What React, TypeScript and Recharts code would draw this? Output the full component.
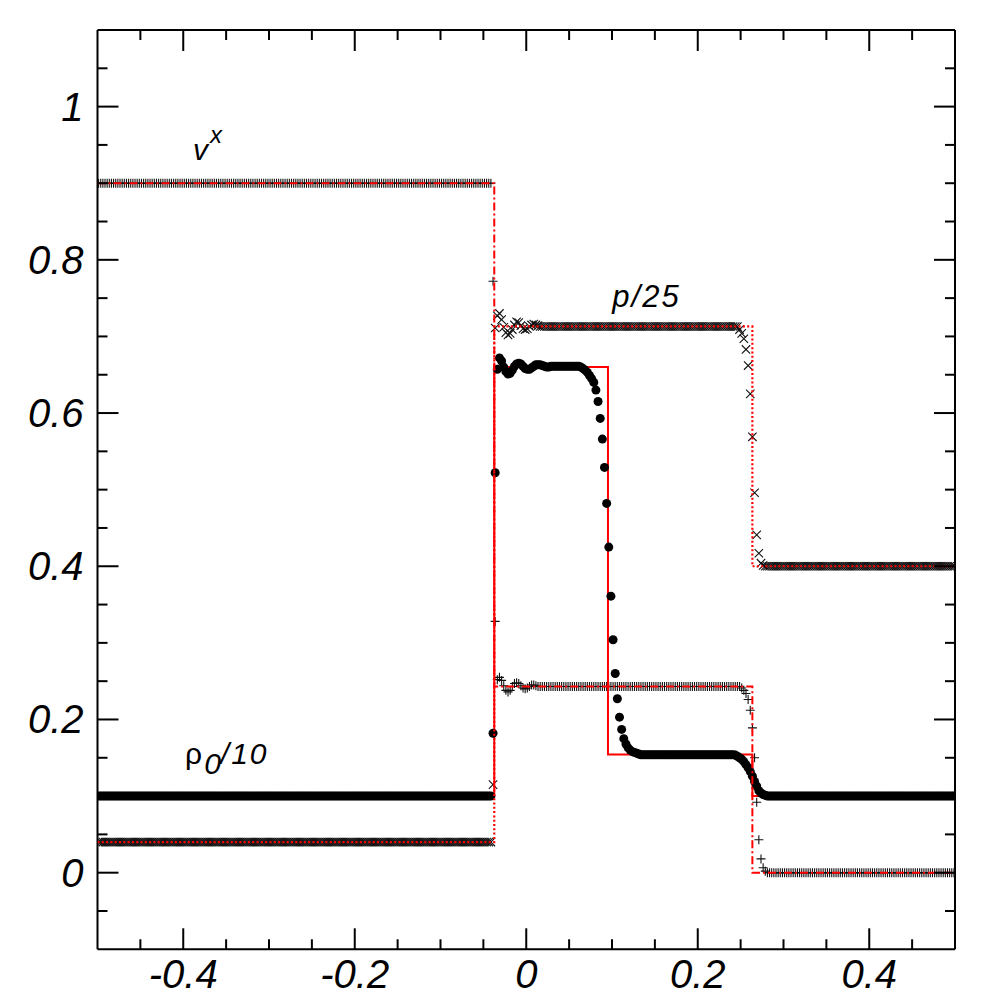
import React from 'react';
import { ScatterChart, Scatter, XAxis, YAxis } from 'recharts';

// ---- axes ----
const X_RANGE: [number, number] = [-0.5, 0.5];
const Y_RANGE: [number, number] = [-0.1, 1.1];
const xTicks = [-0.45, -0.4, -0.35, -0.3, -0.25, -0.2, -0.15, -0.1, -0.05, 0, 0.05, 0.1, 0.15, 0.2, 0.25, 0.3, 0.35, 0.4, 0.45];
const xMajor = [-0.4, -0.2, 0, 0.2, 0.4];
const xLabels = ['-0.4', '-0.2', '0', '0.2', '0.4'];
const yTicks = [-0.05, 0, 0.05, 0.1, 0.15, 0.2, 0.25, 0.3, 0.35, 0.4, 0.45, 0.5, 0.55, 0.6, 0.65, 0.7, 0.75, 0.8, 0.85, 0.9, 0.95, 1, 1.05];
const yMajor = [0, 0.2, 0.4, 0.6, 0.8, 1];
const yLabels = ['0', '0.2', '0.4', '0.6', '0.8', '1'];

// ---- numerical solution: uniform grid of cells, values as runs [value, consecutive cells] ----
const CELL_COUNT = 400;

const velocityRuns: [number, number][] = [
  [0.9, 184], [0.772, 1], [0.328, 1],
  [0.252, 1], [0.255, 1], [0.251, 1], [0.244, 1], [0.238, 1], [0.236, 1], [0.238, 1], [0.243, 1], [0.247, 1], [0.248, 1],
  [0.247, 1], [0.244, 1], [0.241, 1], [0.24, 1], [0.241, 1], [0.243, 1], [0.245, 1], [0.245, 1], [0.244, 1],
  [0.243, 95],
  [0.241, 1], [0.238, 1], [0.234, 1], [0.226, 1], [0.212, 1], [0.189, 1], [0.15, 1], [0.092, 1], [0.043, 1], [0.018, 1], [0.0065, 1], [0.002, 1],
  [0, 88],
];

const pressureRuns: [number, number][] = [
  [0.04, 184], [0.115, 1],
  [0.711, 1], [0.727, 1], [0.73, 1], [0.722, 1], [0.712, 1], [0.705, 1], [0.702, 1], [0.704, 1], [0.709, 1], [0.715, 1],
  [0.719, 1], [0.718, 1], [0.714, 1], [0.71, 1], [0.709, 1], [0.71, 1], [0.713, 1], [0.715, 1], [0.716, 1], [0.715, 1], [0.714, 1],
  [0.713, 93],
  [0.709, 1], [0.704, 1], [0.697, 1], [0.683, 1], [0.662, 1], [0.625, 1], [0.569, 1], [0.496, 1], [0.441, 1], [0.417, 1], [0.404, 1], [0.401, 1],
  [0.4, 89],
];

const densityRuns: [number, number][] = [
  [0.1, 184], [0.182, 1], [0.522, 1],
  [0.657, 1], [0.672, 1], [0.668, 1], [0.66, 1], [0.654, 1], [0.651, 1], [0.652, 1], [0.656, 1], [0.661, 1], [0.664, 1],
  [0.665, 1], [0.664, 1], [0.661, 1], [0.658, 1], [0.657, 1], [0.657, 1], [0.659, 1], [0.661, 1], [0.663, 1], [0.663, 1],
  [0.663, 1], [0.662, 1], [0.661, 1], [0.66, 1], [0.66, 1], [0.661, 1],
  [0.661, 13],
  [0.66, 1], [0.658, 1], [0.656, 1], [0.653, 1], [0.649, 1], [0.645, 1], [0.64, 1], [0.63, 1], [0.615, 1], [0.593, 1],
  [0.566, 1], [0.529, 1], [0.482, 1], [0.425, 1], [0.361, 1], [0.304, 1], [0.26, 1], [0.227, 1], [0.203, 1], [0.187, 1],
  [0.175, 1], [0.168, 1], [0.163, 1], [0.16, 1], [0.158, 1], [0.157, 1], [0.156, 1], [0.155, 1],
  [0.154, 44],
  [0.1535, 1], [0.152, 1], [0.15, 1], [0.148, 1], [0.145, 1], [0.141, 1], [0.137, 1], [0.132, 1], [0.126, 1], [0.119, 1],
  [0.113, 1], [0.107, 1], [0.104, 1], [0.102, 1], [0.101, 1],
  [0.1, 88],
];

// ---- exact solution ----
const SHOCK_LEFT = -0.0373;
const CONTACT = 0.0953;
const SHOCK_RIGHT = 0.2637;
const velocityExactX = [-0.5, SHOCK_LEFT, SHOCK_LEFT, SHOCK_RIGHT, SHOCK_RIGHT, 0.5];
const velocityExactY = [0.9, 0.9, 0.243, 0.243, 0, 0];
const pressureExactX = [-0.5, SHOCK_LEFT, SHOCK_LEFT, SHOCK_RIGHT, SHOCK_RIGHT, 0.5];
const pressureExactY = [0.04, 0.04, 0.713, 0.713, 0.4, 0.4];
const densityExactX = [-0.5, SHOCK_LEFT, SHOCK_LEFT, CONTACT, CONTACT, SHOCK_RIGHT, SHOCK_RIGHT, 0.5];
const densityExactY = [0.1, 0.1, 0.66, 0.66, 0.1543, 0.1543, 0.1, 0.1];

// ---- annotations (data coordinates of text start / baseline) ----
const velocityLabelPos = { x: -0.3886, y: 0.93 };
const pressureLabelPos = { x: 0.1004, y: 0.739 };
const densityLabelPos = { x: -0.3979, y: 0.1413 };

const FONT = '"Liberation Sans", Arial, Helvetica, sans-serif';

const cellCenter = (i: number) => X_RANGE[0] + ((i + 0.5) * (X_RANGE[1] - X_RANGE[0])) / CELL_COUNT;

const expandRuns = (runs: [number, number][]) => {
  const vals: number[] = [];
  runs.forEach(([v, n]) => {
    for (let k = 0; k < n; k++) vals.push(v);
  });
  return vals.map((y, i) => ({ x: cellCenter(i), y }));
};

const zipXY = (xs: number[], ys: number[]) => xs.map((x, i) => ({ x, y: ys[i] }));

const velocityData = expandRuns(velocityRuns);
const pressureData = expandRuns(pressureRuns);
const densityData = expandRuns(densityRuns);
const velocityExact = zipXY(velocityExactX, velocityExactY);
const pressureExact = zipXY(pressureExactX, pressureExactY);
const densityExact = zipXY(densityExactX, densityExactY);

const isIn = (list: number[], v: number) => list.findIndex((m) => Math.abs(m - v) < 1e-9);

const MAJOR = 21;
const MINOR = 10;

const BottomTick = (props: any) => {
  const { x, y, payload } = props;
  const idx = isIn(xMajor, payload.value);
  const len = idx >= 0 ? MAJOR : MINOR;
  return (
    <g>
      <line x1={x} y1={y} x2={x} y2={y - len} stroke="#000" strokeWidth={2} />
      {idx >= 0 && (
        <text x={x} y={y + 39} textAnchor="middle" fontSize={40} fontStyle="italic" fontFamily={FONT} fill="#000">
          {xLabels[idx]}
        </text>
      )}
    </g>
  );
};

const TopTick = (props: any) => {
  const { x, y, payload } = props;
  const len = isIn(xMajor, payload.value) >= 0 ? MAJOR : MINOR;
  return <line x1={x} y1={y} x2={x} y2={y + len} stroke="#000" strokeWidth={2} />;
};

const LeftTick = (props: any) => {
  const { x, y, payload } = props;
  const idx = isIn(yMajor, payload.value);
  const len = idx >= 0 ? MAJOR : MINOR;
  return (
    <g>
      <line x1={x} y1={y} x2={x + len} y2={y} stroke="#000" strokeWidth={2} />
      {idx >= 0 && (
        <text x={x - 14} y={y + 14} textAnchor="end" fontSize={40} fontStyle="italic" fontFamily={FONT} fill="#000">
          {yLabels[idx]}
        </text>
      )}
    </g>
  );
};

const RightTick = (props: any) => {
  const { x, y, payload } = props;
  const len = isIn(yMajor, payload.value) >= 0 ? MAJOR : MINOR;
  return <line x1={x} y1={y} x2={x - len} y2={y} stroke="#000" strokeWidth={2} />;
};

const PlusShape = (p: any) => (
  <path d={`M${p.cx - 4.5},${p.cy}H${p.cx + 4.5}M${p.cx},${p.cy - 4.5}V${p.cy + 4.5}`} stroke="#111" strokeWidth={1.1} fill="none" />
);
const CrossShape = (p: any) => (
  <path
    d={`M${p.cx - 4.2},${p.cy - 4.2}L${p.cx + 4.2},${p.cy + 4.2}M${p.cx - 4.2},${p.cy + 4.2}L${p.cx + 4.2},${p.cy - 4.2}`}
    stroke="#111"
    strokeWidth={1.1}
    fill="none"
  />
);
const DotShape = (p: any) => <circle cx={p.cx} cy={p.cy} r={4.5} fill="#000" />;
const NoShape = () => <g />;

const VelocityLabel = (p: any) => (
  <text x={p.cx} y={p.cy} fontSize={30} fontStyle="italic" fontFamily={FONT} fill="#000">
    <tspan>v</tspan>
    <tspan dy={-17} dx={2} fontSize={24}>x</tspan>
  </text>
);
const PressureLabel = (p: any) => (
  <text x={p.cx} y={p.cy} fontSize={31} fontStyle="italic" fontFamily={FONT} fill="#000" letterSpacing={2}>
    p/25
  </text>
);
const DensityLabel = (p: any) => (
  <text x={p.cx} y={p.cy} fontSize={30} fontFamily={FONT} fill="#000" letterSpacing={2}>
    <tspan>ρ</tspan>
    <tspan dy={10} fontStyle="italic">0</tspan>
    <tspan dy={-10} dx={-2} fontStyle="italic">/10</tspan>
  </text>
);

export default function App() {
  return (
    <div style={{ position: 'absolute', left: 0, top: 0, width: 1000, height: 1000, background: '#fff' }}>
      <ScatterChart width={1000} height={1000} margin={{ top: 29, right: 44, bottom: 49.7, left: 96.5 }}>
        <XAxis
          xAxisId="bottom"
          type="number"
          dataKey="x"
          domain={X_RANGE}
          ticks={xTicks}
          interval={0}
          height={1}
          tickSize={0}
          tickMargin={0}
          tickLine={false}
          axisLine={{ stroke: '#000', strokeWidth: 2 }}
          tick={<BottomTick />}
          allowDataOverflow
        />
        <XAxis
          xAxisId="top"
          orientation="top"
          type="number"
          dataKey="x"
          domain={X_RANGE}
          ticks={xTicks}
          interval={0}
          height={1}
          tickSize={0}
          tickMargin={0}
          tickLine={false}
          axisLine={{ stroke: '#000', strokeWidth: 2 }}
          tick={<TopTick />}
          allowDataOverflow
        />
        <YAxis
          yAxisId="left"
          type="number"
          dataKey="y"
          domain={Y_RANGE}
          ticks={yTicks}
          interval={0}
          width={1}
          tickSize={0}
          tickMargin={0}
          tickLine={false}
          axisLine={{ stroke: '#000', strokeWidth: 2 }}
          tick={<LeftTick />}
          allowDataOverflow
        />
        <YAxis
          yAxisId="right"
          orientation="right"
          type="number"
          dataKey="y"
          domain={Y_RANGE}
          ticks={yTicks}
          interval={0}
          width={1}
          tickSize={0}
          tickMargin={0}
          tickLine={false}
          axisLine={{ stroke: '#000', strokeWidth: 2 }}
          tick={<RightTick />}
          allowDataOverflow
        />

        <Scatter xAxisId="bottom" yAxisId="left" data={velocityData} shape={PlusShape} isAnimationActive={false} />
        <Scatter xAxisId="bottom" yAxisId="left" data={pressureData} shape={CrossShape} isAnimationActive={false} />

        <Scatter
          xAxisId="bottom"
          yAxisId="left"
          data={densityExact}
          shape={NoShape}
          fill="#ff0000"
          line={{ stroke: '#ff0000', strokeWidth: 2, fill: 'none' }}
          lineType="joint"
          isAnimationActive={false}
        />
        <Scatter xAxisId="bottom" yAxisId="left" data={densityData} shape={DotShape} isAnimationActive={false} />

        <Scatter
          xAxisId="bottom"
          yAxisId="left"
          data={pressureExact}
          shape={NoShape}
          fill="#ff0000"
          line={{ stroke: '#ff0000', strokeWidth: 2.2, strokeDasharray: '2 2.3', fill: 'none' }}
          lineType="joint"
          isAnimationActive={false}
        />
        <Scatter
          xAxisId="bottom"
          yAxisId="left"
          data={velocityExact}
          shape={NoShape}
          fill="#ff0000"
          line={{ stroke: '#ff0000', strokeWidth: 2, strokeDasharray: '8 3 2 3', fill: 'none' }}
          lineType="joint"
          isAnimationActive={false}
        />

        <Scatter xAxisId="bottom" yAxisId="left" data={[velocityLabelPos]} shape={VelocityLabel} isAnimationActive={false} />
        <Scatter xAxisId="bottom" yAxisId="left" data={[pressureLabelPos]} shape={PressureLabel} isAnimationActive={false} />
        <Scatter xAxisId="bottom" yAxisId="left" data={[densityLabelPos]} shape={DensityLabel} isAnimationActive={false} />
      </ScatterChart>
    </div>
  );
}
